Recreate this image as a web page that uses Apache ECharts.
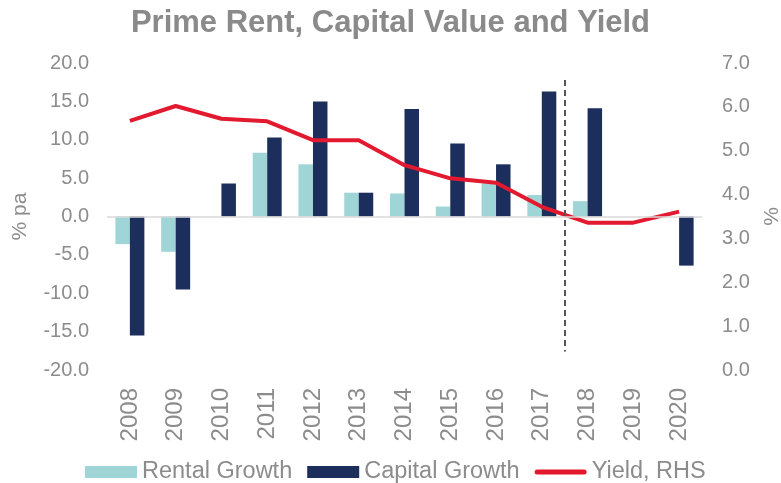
<!DOCTYPE html>
<html>
<head>
<meta charset="utf-8">
<script src="https://cdn.jsdelivr.net/npm/echarts@6/dist/echarts.min.js"></script>
<style>
  html, body { margin: 0; padding: 0; background: #fff; }
  #chart { width: 781px; height: 483px; }
</style>
</head>
<body>
<div id="chart"></div>
<script>
  const years = ['2008', '2009', '2010', '2011', '2012', '2013', '2014', '2015', '2016', '2017', '2018', '2019', '2020']
  const rentalGrowth = [-3.6, -4.6, 0, 8.3, 6.8, 3.1, 3.0, 1.3, 4.3, 2.8, 2.0, 0, 0]
  const capitalGrowth = [-15.5, -9.5, 4.3, 10.3, 15.0, 3.1, 14.0, 9.5, 6.8, 16.3, 14.1, 0, -6.4]
  const yieldRhs = [5.68, 6.02, 5.73, 5.67, 5.24, 5.24, 4.67, 4.37, 4.27, 3.72, 3.36, 3.36, 3.61]
  // forecast divider: between 2017 and 2018 (index 9.5), spanning left-axis values
  const forecastLine = [[9.5, 17.8], [9.5, -17.6]]

  const grey = '#8c8c8c'
  const chart = echarts.init(document.getElementById('chart'))

  const options = {
    animation: false,
    title: {
      text: 'Prime Rent, Capital Value and Yield',
      left: 'center',
      top: 3,
      textStyle: {
        fontFamily: 'Liberation Sans',
        fontSize: 31,
        fontWeight: 'bold',
        color: '#8a8a8a'
      }
    },
    legend: {
      top: 455,
      left: 80,
      itemWidth: 52,
      itemHeight: 12,
      itemGap: 15,
      textStyle: { fontFamily: 'Liberation Sans', fontSize: 23.5, color: grey },
      data: [
        { name: 'Rental Growth', icon: 'rect' },
        { name: 'Capital Growth', icon: 'rect' },
        { name: 'Yield, RHS', icon: 'path://M2.5,0 L49.5,0 A2.5,2.5 0 0 1 49.5,5 L2.5,5 A2.5,2.5 0 0 1 2.5,0 Z' }
      ]
    },
    grid: { left: 107, right: 79, top: 63, bottom: 113, outerBoundsMode: 'none' },
    xAxis: [
      {
        type: 'category',
        data: years,
        axisLine: { show: false },
        axisTick: { show: false },
        axisLabel: {
          rotate: 90,
          margin: 18,
          fontFamily: 'Liberation Sans',
          fontSize: 24,
          color: grey
        }
      },
      {
        type: 'value',
        min: -0.5,
        max: 12.5,
        show: false
      }
    ],
    yAxis: [
      {
        type: 'value',
        min: -20,
        max: 20,
        interval: 5,
        name: '% pa',
        nameLocation: 'middle',
        nameGap: 76,
        nameTextStyle: { fontFamily: 'Liberation Sans', fontSize: 21, color: grey },
        axisLine: { show: false },
        axisTick: { show: false },
        splitLine: { show: false },
        axisLabel: {
          margin: 18,
          fontFamily: 'Liberation Sans',
          fontSize: 20,
          color: grey,
          formatter: v => v.toFixed(1)
        }
      },
      {
        type: 'value',
        min: 0,
        max: 7,
        interval: 1,
        name: '%',
        nameLocation: 'middle',
        nameGap: 60,
        nameTextStyle: { fontFamily: 'Liberation Sans', fontSize: 21, color: grey },
        axisLine: { show: false },
        axisTick: { show: false },
        splitLine: { show: false },
        axisLabel: {
          margin: 20,
          fontFamily: 'Liberation Sans',
          fontSize: 20,
          color: grey,
          formatter: v => v.toFixed(1)
        }
      }
    ],
    series: [
      {
        name: 'Rental Growth',
        type: 'bar',
        barWidth: 14.5,
        barGap: '0%',
        itemStyle: { color: '#9fd5d6' },
        data: rentalGrowth,
        markLine: {
          silent: true,
          symbol: 'none',
          label: { show: false },
          lineStyle: { color: '#d9d9d9', width: 1.5, type: 'solid' },
          data: [{ yAxis: 0 }]
        }
      },
      {
        name: 'Capital Growth',
        type: 'bar',
        barWidth: 14.5,
        barGap: '0%',
        itemStyle: { color: '#1c2f5c' },
        data: capitalGrowth
      },
      {
        name: 'Yield, RHS',
        type: 'line',
        yAxisIndex: 1,
        symbol: 'none',
        lineStyle: { color: '#e2192f', width: 4 },
        itemStyle: { color: '#e2192f' },
        data: yieldRhs
      },
      {
        name: 'forecast',
        type: 'line',
        xAxisIndex: 1,
        yAxisIndex: 0,
        data: [],
        markLine: {
          silent: true,
          symbol: 'none',
          label: { show: false },
          lineStyle: { color: '#555555', width: 2, type: [6, 4] },
          data: [[{ coord: forecastLine[0] }, { coord: forecastLine[1] }]]
        }
      }
    ]
  }
  chart.setOption(options)
</script>
</body>
</html>
